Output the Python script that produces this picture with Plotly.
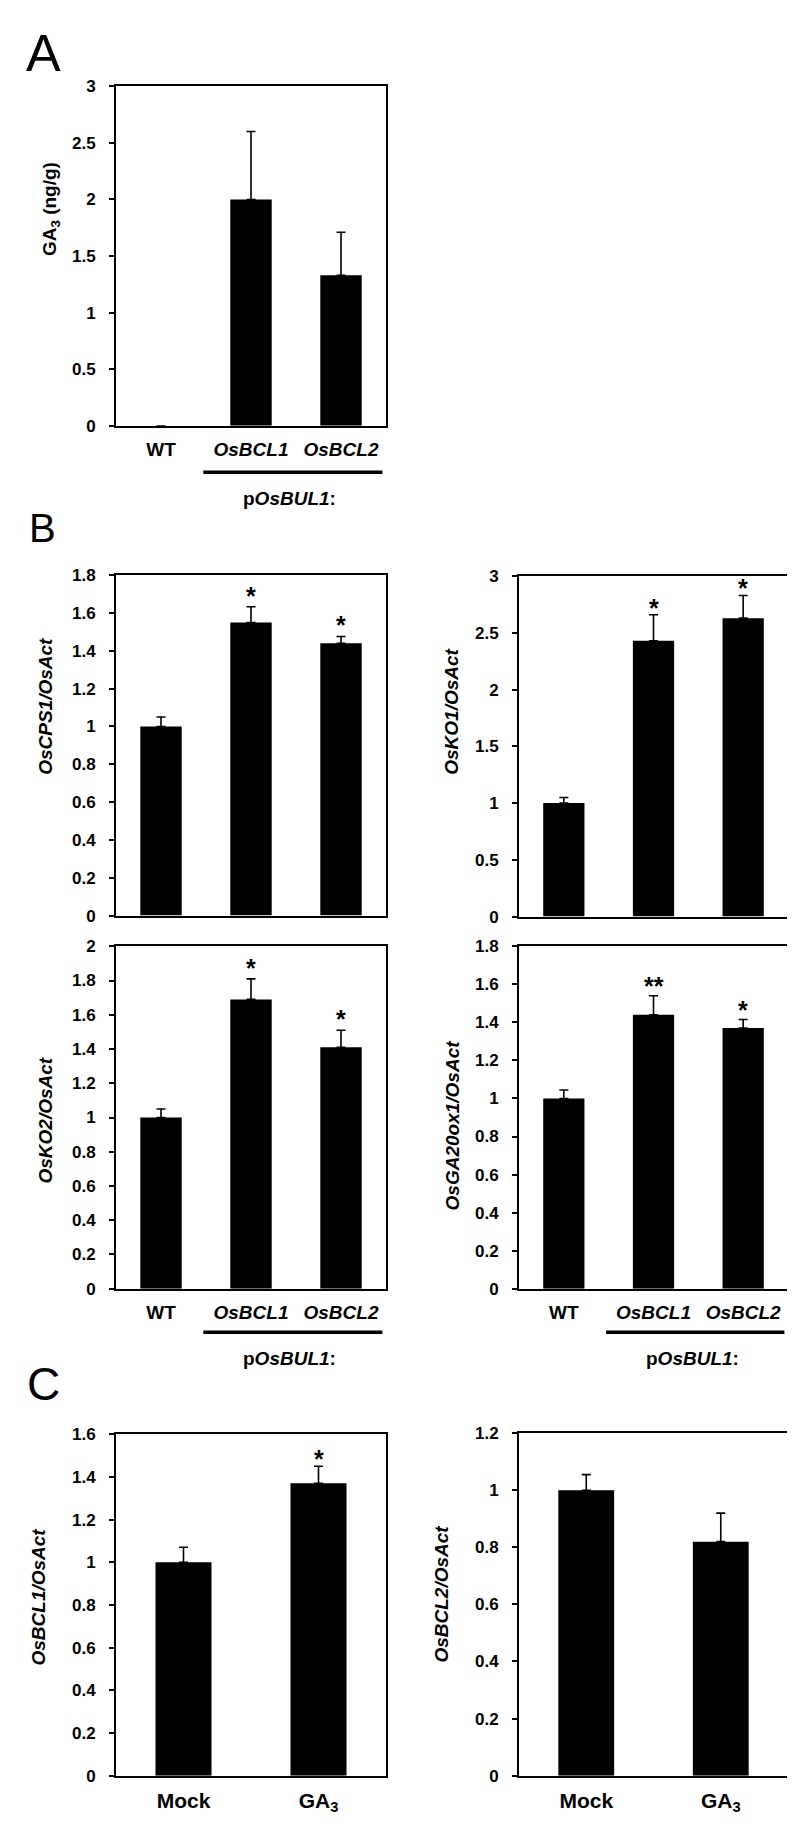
import plotly.graph_objects as go

W, H = 795, 1839
FONT = "Arial, 'Liberation Sans', sans-serif"

# ---------------- data ----------------
geno_cats = ["WT", "<i>OsBCL1</i>", "<i>OsBCL2</i>"]
treat_cats = ["Mock", "GA<sub>3</sub>"]

ga3_vals = [0.0, 2.0, 1.33]
ga3_err = [None, 0.60, 0.38]
ga3_sig = ["", "", ""]

cps1_vals = [1.0, 1.55, 1.44]
cps1_err = [0.05, 0.083, 0.036]
cps1_sig = ["", "*", "*"]

ko1_vals = [1.0, 2.43, 2.63]
ko1_err = [0.05, 0.23, 0.20]
ko1_sig = ["", "*", "*"]

ko2_vals = [1.0, 1.69, 1.41]
ko2_err = [0.05, 0.12, 0.10]
ko2_sig = ["", "*", "*"]

ga20_vals = [1.0, 1.44, 1.37]
ga20_err = [0.045, 0.10, 0.045]
ga20_sig = ["", "**", "*"]

bcl1_vals = [1.0, 1.37]
bcl1_err = [0.07, 0.08]
bcl1_sig = ["", "*"]

bcl2_vals = [1.0, 0.82]
bcl2_err = [0.055, 0.10]
bcl2_sig = ["", ""]

# ---------------- panels ----------------
# (cats, vals, err, sig, x px range, y px range, y max, dtick, y title, title centre px, show x labels, bar width, star shift)
panels = [
    (geno_cats, ga3_vals, ga3_err, ga3_sig, (108, 378), (70, 413), 3.0, 0.5,
     "GA<sub>3</sub> (ng/g)", (43, 194), True, 0.46, -5),
    (geno_cats, cps1_vals, cps1_err, cps1_sig, (108, 378), (564, 908), 1.8, 0.2,
     "<i>OsCPS1/OsAct</i>", (38, 697), False, 0.46, -5),
    (geno_cats, ko1_vals, ko1_err, ko1_sig, (511, 780), (565, 909), 3.0, 0.5,
     "<i>OsKO1/OsAct</i>", (444, 702), False, 0.46, -9),
    (geno_cats, ko2_vals, ko2_err, ko2_sig, (108, 378), (939, 1285), 2.0, 0.2,
     "<i>OsKO2/OsAct</i>", (37, 1115), True, 0.46, -5),
    (geno_cats, ga20_vals, ga20_err, ga20_sig, (511, 780), (939, 1285), 1.8, 0.2,
     "<i>OsGA20ox1/OsAct</i>", (444, 1120), True, 0.46, -6),
    (treat_cats, bcl1_vals, bcl1_err, bcl1_sig, (108, 378), (1432, 1777), 1.6, 0.2,
     "<i>OsBCL1/OsAct</i>", (31, 1597), True, 0.415, -9),
    (treat_cats, bcl2_vals, bcl2_err, bcl2_sig, (511, 780), (1431, 1777), 1.2, 0.2,
     "<i>OsBCL2/OsAct</i>", (434, 1594), True, 0.415, -9),
]

fig = go.Figure()
layout = dict(
    width=W, height=H, margin=dict(l=0, r=0, t=0, b=0),
    paper_bgcolor="white", plot_bgcolor="white", showlegend=False,
    font=dict(family=FONT, color="black"),
)
annotations = []
shapes = []

for i, (cats, vals, err, sig, xr, yr, ymax, dt, ytitle, tpos, showx, bw, sshift) in enumerate(panels):
    n = "" if i == 0 else str(i + 1)
    xa, ya = "x" + n, "y" + n
    fig.add_trace(go.Bar(
        x=cats, y=vals, xaxis=xa, yaxis=ya, width=bw,
        marker=dict(color="black", line=dict(color="black", width=0)),
        error_y=dict(type="data", symmetric=False, array=err,
                     arrayminus=[0 if e is not None else None for e in err],
                     color="black", thickness=1.6, width=4.5),
        hoverinfo="skip",
    ))
    xdom = [xr[0] / W, xr[1] / W]
    ydom = [1 - yr[1] / H, 1 - yr[0] / H]
    is_treat = cats is treat_cats
    layout["xaxis" + n] = dict(
        domain=xdom, anchor=ya, type="category", range=[-0.5, len(cats) - 0.5],
        showline=True, linecolor="black", linewidth=2, mirror=True,
        ticks="", showticklabels=showx, showgrid=False, zeroline=False,
        tickfont=dict(family=FONT, size=21 if is_treat else 19, color="black", weight="bold"),
        ticklabelstandoff=5, fixedrange=True,
    )
    layout["yaxis" + n] = dict(
        domain=ydom, anchor=xa, range=[0, ymax], dtick=dt, tick0=0,
        showline=True, linecolor="black", linewidth=2, mirror=True,
        ticks="outside", ticklen=5, tickwidth=2, tickcolor="black",
        showgrid=False, zeroline=False,
        tickfont=dict(family=FONT, size=17, color="black", weight="bold"),
        ticklabelstandoff=10, fixedrange=True,
    )
    # y title
    annotations.append(dict(
        text="<b>" + ytitle + "</b>", xref="paper", yref="paper",
        x=tpos[0] / W, y=1 - tpos[1] / H, xanchor="center", yanchor="middle",
        textangle=-90, showarrow=False, font=dict(family=FONT, size=19, color="black"),
    ))
    # significance stars
    for c, v, e, s in zip(cats, vals, err, sig):
        if s:
            annotations.append(dict(
                text="<b>" + s + "</b>", xref=xa, yref=ya, x=c, y=v + e,
                xanchor="center", yanchor="bottom", yshift=sshift, showarrow=False,
                font=dict(family=FONT, size=25, color="black"),
            ))

# genotype group brackets: underline + promoter label (panel A, panel B lower row)
for xa, ya, line_y, lab_y in [("x", "y", 460, 487), ("x4", "y4", 1329, 1355), ("x5", "y5", 1329, 1355)]:
    shapes.append(dict(type="line", xref=xa, yref="paper", x0=0.47, x1=2.46,
                       y0=1 - line_y / H, y1=1 - line_y / H,
                       line=dict(color="black", width=3.5)))
    annotations.append(dict(
        text="<b>p<i>OsBUL1</i>:</b>", xref=xa, yref="paper", x=1.43, y=1 - lab_y / H,
        xanchor="center", yanchor="middle", showarrow=False,
        font=dict(family=FONT, size=19, color="black"),
    ))

# panel letters
for letter, x, y, size in [("A", 16, 36, 52), ("B", 19, 516, 40), ("C", 17, 1381, 46)]:
    annotations.append(dict(
        text=letter, xref="paper", yref="paper", x=x / W, y=1 - y / H,
        xanchor="left", yanchor="middle", showarrow=False,
        font=dict(family=FONT, size=size, color="black"),
    ))

layout["annotations"] = annotations
layout["shapes"] = shapes
fig.update_layout(**layout)
fig.write_html("out.html")
